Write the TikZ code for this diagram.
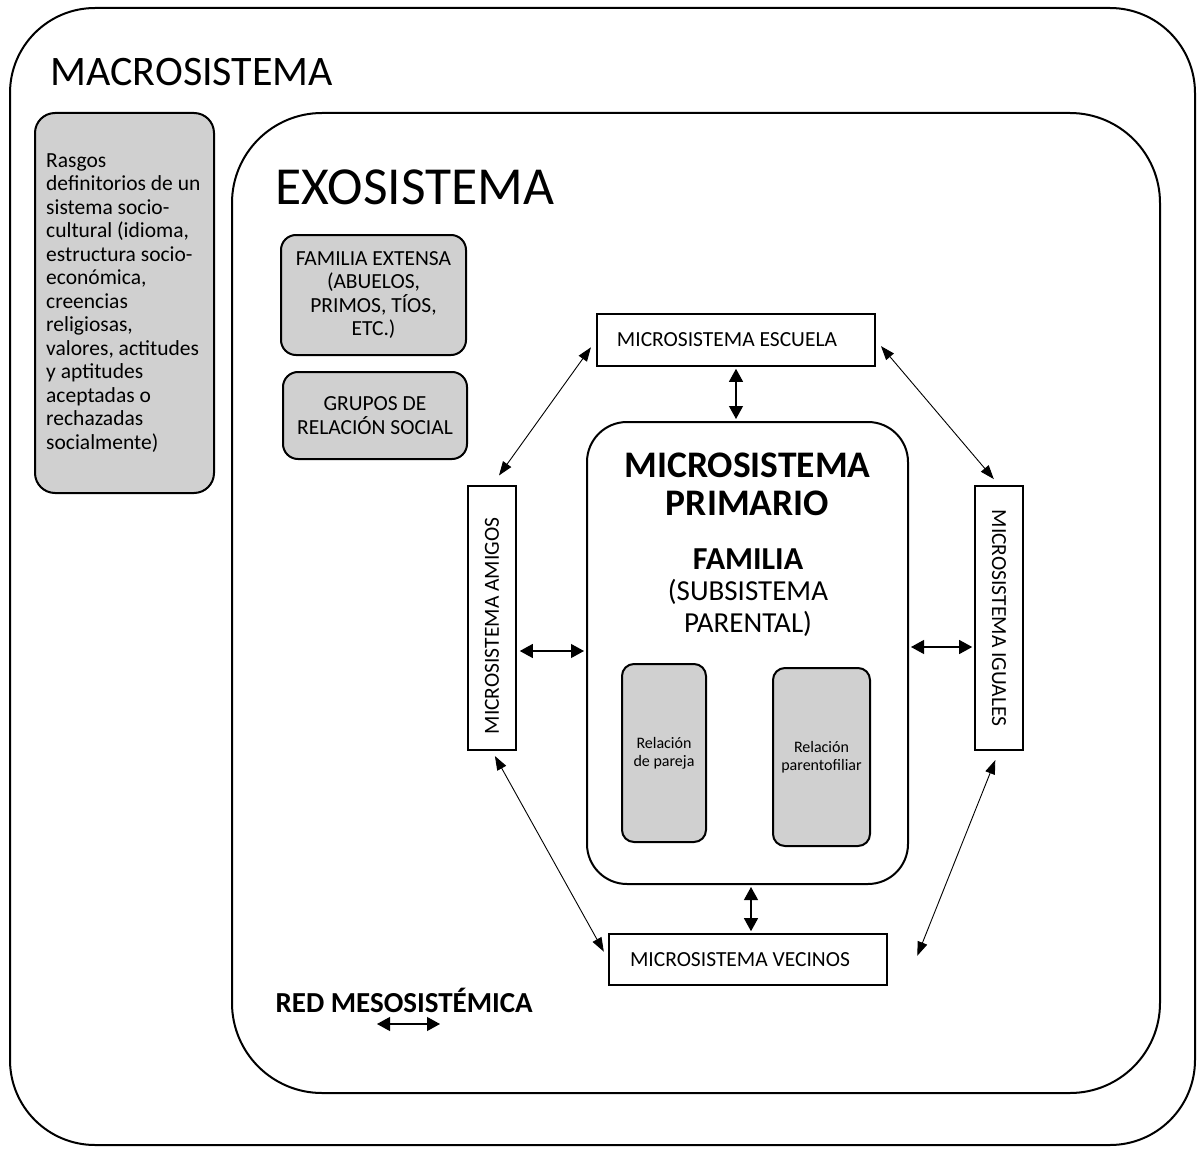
\documentclass[tikz,border=0pt]{standalone}
\usepackage{fontspec}
\setmainfont{Carlito}
\usetikzlibrary{arrows.meta}

\definecolor{boxgrey}{RGB}{208,208,208}

\tikzset{
  frame/.style={draw, line width=2pt, rounded corners=#1},
  greybox/.style={draw, line width=2pt, fill=boxgrey, rounded corners=#1, align=center, inner sep=0pt},
  microbox/.style={draw, line width=1.6pt, fill=white, inner sep=0pt},
  smalltext/.style={font=\fontsize{21.5}{23.5}\selectfont},
  bigarr/.style={{Triangle[length=13pt,width=14pt]}-{Triangle[length=13pt,width=14pt]}, line width=1.2pt},
  thinarr/.style={{Triangle[length=14pt,width=10pt]}-{Triangle[length=14pt,width=10pt]}, line width=0.9pt}
}

\begin{document}
\begin{tikzpicture}[x=1pt, y=-1pt]
  \useasboundingbox (0,0) rectangle (1203,1153);
  % frames
  \draw[frame=85pt] (10,8) rectangle (1195,1145);
  \draw[frame=90pt] (232,113) rectangle (1160,1093);
  \node[anchor=west, font=\fontsize{42}{46}\selectfont] (macro) at (47,72) {MACROSISTEMA};
  \node[anchor=west, font=\fontsize{53.5}{58}\selectfont] (exo) at (272,187) {EXOSISTEMA};

  % macrosistema
  \node[greybox=20pt, smalltext, minimum width=179pt, minimum height=380pt] (rasgos) at (124.5,303) {};
  \node[smalltext, anchor=west, align=left, inner sep=0pt] (rasgostext) at (46,303)
    {Rasgos\\definitorios de un\\sistema socio-\\cultural (idioma,\\estructura socio-\\económica,\\creencias\\religiosas,\\valores, actitudes\\y aptitudes\\aceptadas o\\rechazadas\\socialmente)};

  % exosistema
  \node[greybox=15pt, smalltext, minimum width=185pt, minimum height=120pt] (extensa) at (373.5,295)
    {FAMILIA EXTENSA\\(ABUELOS,\\PRIMOS, TÍOS,\\ETC.)};
  \node[greybox=15pt, smalltext, minimum width=184pt, minimum height=87pt] (grupos) at (375,415.5)
    {GRUPOS DE\\RELACIÓN SOCIAL};

  % microsistemas
  \node[microbox, smalltext, minimum width=278pt, minimum height=52pt] (escuela) at (736,340) {\hspace{-18pt}MICROSISTEMA ESCUELA};
  \node[microbox, smalltext, minimum width=278pt, minimum height=51pt] (vecinos) at (748,959.5) {\hspace{-16pt}MICROSISTEMA VECINOS};
  \node[microbox, smalltext, minimum width=48pt, minimum height=264pt] (amigos) at (492,618) {\rotatebox{90}{MICROSISTEMA AMIGOS\hspace{16pt}}};
  \node[microbox, smalltext, minimum width=48pt, minimum height=264pt] (iguales) at (999,618) {\rotatebox{-90}{MICROSISTEMA IGUALES}};

  % microsistema primario
  \node[draw, line width=2pt, rounded corners=40pt, minimum width=321pt, minimum height=462pt] (primario) at (747.5,653) {};
  \node[font=\fontsize{37.5}{38}\selectfont\bfseries, align=center] (primtitle) at (747.5,484) {MICROSISTEMA\\PRIMARIO};
  \node[font=\fontsize{32}{32}\selectfont\bfseries] (familia) at (748,559) {FAMILIA};
  \node[font=\fontsize{29}{32}\selectfont, align=center] (subsist) at (748,608) {(SUBSISTEMA\\PARENTAL)};
  \node[greybox=12pt, font=\fontsize{16}{18}\selectfont, minimum width=84pt, minimum height=178pt] (pareja) at (664,753) {Relación\\de pareja};
  \node[greybox=12pt, font=\fontsize{16}{18}\selectfont, minimum width=97pt, minimum height=178pt] (parento) at (821.5,757) {Relación\\parentofiliar};

  % red mesosistemica
  \draw[bigarr, shorten <=2pt, shorten >=2pt] (escuela.south) -- (escuela.south |- primario.north);
  \draw[bigarr, shorten <=2pt, shorten >=2pt] (primario.south -| 751,0) -- (vecinos.north -| 751,0);
  \draw[bigarr, shorten <=3pt, shorten >=2pt] (amigos.east |- 0,651) -- (primario.west |- 0,651);
  \draw[bigarr, shorten <=2pt, shorten >=2pt] (primario.east |- 0,647) -- (iguales.west |- 0,647);
  \draw[thinarr, shorten <=12pt, shorten >=9pt] (amigos.north) -- (escuela.west);
  \draw[thinarr, shorten <=8pt, shorten >=8pt] (escuela.east) -- (iguales.north);
  \draw[thinarr, shorten <=6pt, shorten >=9pt] (amigos.south) -- (vecinos.west);
  \draw[thinarr, shorten <=10pt, shorten >=4pt] (iguales.south) -- ([xshift=28pt]vecinos.east);

  % leyenda
  \node[anchor=west, font=\fontsize{29}{32}\selectfont\bfseries] (red) at (272,1000) {RED MESOSISTÉMICA};
  \coordinate (legA) at (377,1024);
  \coordinate (legB) at (440,1024);
  \draw[bigarr] (legA) -- (legB);
\end{tikzpicture}
\end{document}
